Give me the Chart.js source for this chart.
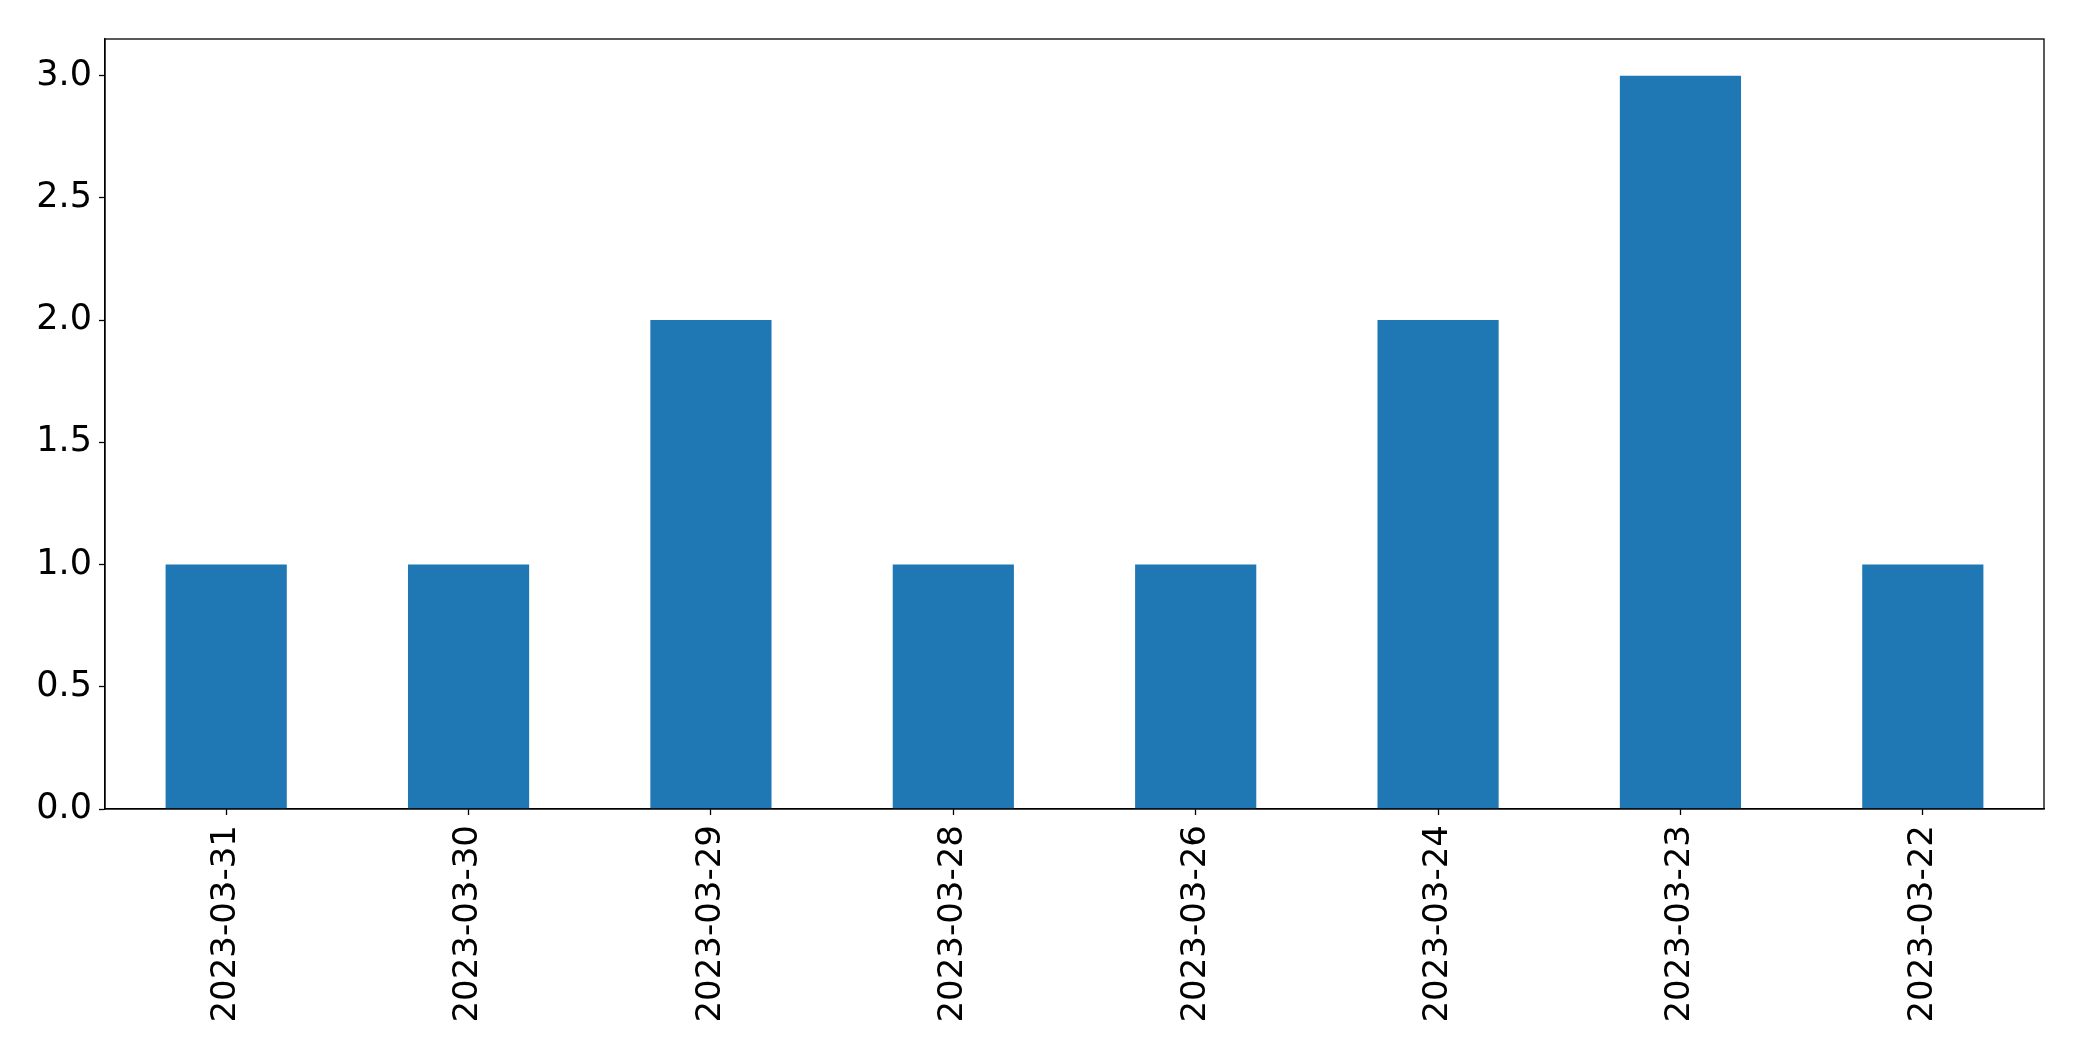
<!DOCTYPE html>
<html>
<head>
<meta charset="utf-8">
<script src="https://cdn.jsdelivr.net/npm/chart.js@4.4.0/dist/chart.umd.min.js"></script>
<style>
  html, body { margin: 0; padding: 0; background: #fff; }
  #wrap { width: 2082px; height: 1061px; }
</style>
</head>
<body>
<div id="wrap"><canvas id="chart" width="2082" height="1061"></canvas></div>
<script>
const dates = ['2023-03-31', '2023-03-30', '2023-03-29', '2023-03-28', '2023-03-26', '2023-03-24', '2023-03-23', '2023-03-22'];
const counts = [1, 1, 2, 1, 1, 2, 3, 1];
const yTicks = [0, 0.5, 1, 1.5, 2, 2.5, 3];

// box round the plot area, like the matplotlib frame
const frame = {
  id: 'frame',
  afterDraw(chart) {
    const { ctx, chartArea } = chart;
    ctx.save();
    ctx.strokeStyle = '#000';
    ctx.lineWidth = 1.3;
    ctx.strokeRect(chartArea.left, chartArea.top, chartArea.right - chartArea.left, chartArea.bottom - chartArea.top);
    ctx.restore();
  }
};

function initChart(canvas) {
  return new Chart(canvas, {
    type: 'bar',
    data: {
      labels: dates,
      datasets: [{
        data: counts,
        backgroundColor: '#1f77b4',
        borderWidth: 0,
        barPercentage: 0.5,
        categoryPercentage: 1
      }]
    },
    options: {
      responsive: false,
      animation: false,
      layout: { padding: { top: 39, right: 38, left: 0, bottom: 0 } },
      plugins: { legend: { display: false }, tooltip: { enabled: false } },
      scales: {
        x: {
          offset: true,
          grid: { display: true, offset: false, drawOnChartArea: false, tickLength: 6, tickColor: '#000', tickWidth: 1.3 },
          border: { color: '#000', width: 1.3 },
          ticks: {
            color: '#000',
            font: { family: 'DejaVu Sans', size: 34 },
            minRotation: 90,
            maxRotation: 90,
            padding: 10,
            autoSkip: false
          },
          afterFit(scale) { scale.height = 252; }
        },
        y: {
          min: 0,
          max: 3.15,
          grid: { display: true, drawOnChartArea: false, tickLength: 6, tickColor: '#000', tickWidth: 1.3 },
          border: { color: '#000', width: 1.3 },
          afterBuildTicks(scale) { scale.ticks = yTicks.map((v) => ({ value: v })); },
          ticks: {
            color: '#000',
            font: { family: 'DejaVu Sans', size: 35 },
            padding: 7,
            callback: (v) => Number(v).toFixed(1)
          },
          afterFit(scale) { scale.width = 105; }
        }
      }
    },
    plugins: [frame]
  });
}

document.addEventListener('DOMContentLoaded', () => initChart(document.getElementById('chart')));
</script>
</body>
</html>
